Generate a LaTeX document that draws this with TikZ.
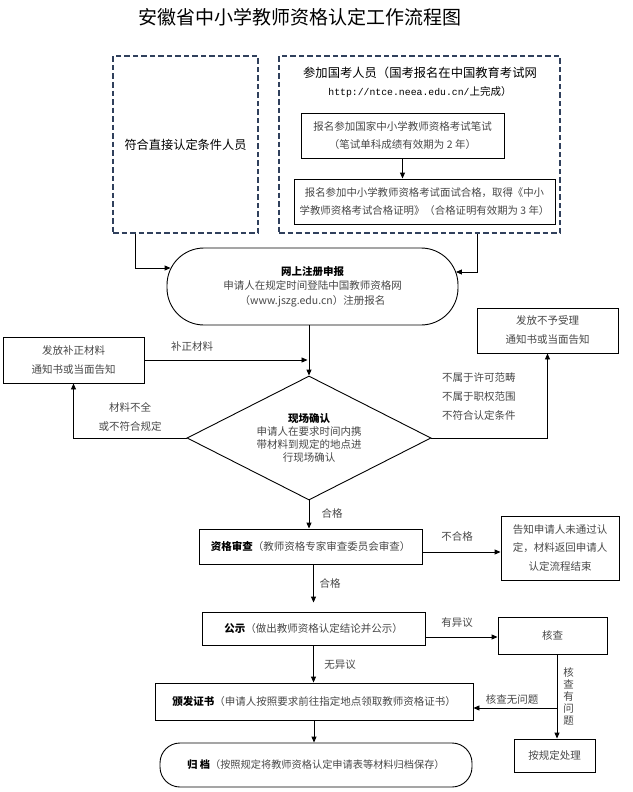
\documentclass[tikz,border=0pt]{standalone}
\usepackage{fontspec}
\setmainfont{Noto Sans CJK SC}
\newfontfamily\urlmono{Liberation Mono}
\usepackage{xcolor}
\usetikzlibrary{arrows.meta,shapes.geometric}
\definecolor{groupline}{RGB}{48,64,92}
\colorlet{bodytext}{black!72}

\begin{document}
\begin{tikzpicture}[
    x=1pt,y=-1pt,
    font=\fontsize{10.5}{18}\selectfont,
    >={Triangle[length=6pt,width=5pt]},
    flow/.style={->,draw=black,line width=0.9pt},
    box/.style={draw=black,line width=0.9pt,align=center,inner sep=0pt},
    group/.style={draw=groupline,line width=2.2pt,dash pattern=on 5.5pt off 3pt},
    note/.style={text=bodytext,inner sep=1pt,align=center}
  ]
    \useasboundingbox (0,0) rectangle (632,792);

    \node (title) at (300,17) {\fontsize{19}{22}\selectfont 安徽省中小学教师资格认定工作流程图};

    % two groups of applicants
    \node[group,minimum width=145pt,minimum height=177pt] (direct) at (185.5,144.5) {};
    \node at (direct.center) {\fontsize{12.2}{14}\selectfont 符合直接认定条件人员};
    \node[group,minimum width=281pt,minimum height=177pt] (exam) at (419.5,144.5) {};
    \node[align=center,inner sep=0pt] (examhead) at (420,82)
      {\fontsize{12.3}{18}\selectfont 参加国考人员（国考报名在中国教育考试网\\
       {\urlmono\fontsize{9.8}{18}\selectfont http://ntce.neea.edu.cn/}上完成）};
    \node[box,text=bodytext,minimum width=203pt,minimum height=45pt] (written) at (402.5,135.5)
      {报名参加国家中小学教师资格考试笔试\\（笔试单科成绩有效期为 2 年）};
    \node[box,text=bodytext,minimum width=261pt,minimum height=45pt,
      font=\fontsize{10.4}{18.5}\selectfont] (interview) at (424.5,201.5)
      {报名参加中小学教师资格考试面试合格，取得《中小\\学教师资格考试合格证明》（合格证明有效期为 3 年）};

    % online registration
    \node[box,rounded corners=37pt,minimum width=291pt,minimum height=77pt,
      font=\fontsize{10.5}{14.5}\selectfont] (reg) at (312.5,286.5)
      {\textbf{网上注册申报}\\{\color{bodytext}申请人在规定时间登陆中国教师资格网}\\
       {\color{bodytext}（www.jszg.edu.cn）注册报名}};

    \node[box,text=bodytext,minimum width=141pt,minimum height=46pt,
      font=\fontsize{10.5}{19}\selectfont] (supply) at (73.5,360)
      {发放补正材料\\通知书或当面告知};
    \node[box,text=bodytext,minimum width=141pt,minimum height=45pt,
      font=\fontsize{10.5}{19}\selectfont] (reject) at (547.5,330.5)
      {发放不予受理\\通知书或当面告知};

    % on-site confirmation
    \node[box,diamond,aspect=2,minimum width=244pt,minimum height=124pt,
      font=\fontsize{10.5}{12.8}\selectfont] (confirm) at (309,438)
      {\textbf{现场确认}\\{\color{bodytext}申请人在要求时间内携}\\
       {\color{bodytext}带材料到规定的地点进}\\{\color{bodytext}行现场确认}};

    \node[box,minimum width=223pt,minimum height=35pt] (review) at (310.5,546.5)
      {\textbf{资格审查}{\color{bodytext}（教师资格专家审查委员会审查）}};
    \node[box,text=bodytext,minimum width=118pt,minimum height=64pt,
      font=\fontsize{10.5}{18.5}\selectfont] (fail) at (560,548)
      {告知申请人未通过认\\定，材料返回申请人\\认定流程结束};

    \node[box,minimum width=223pt,minimum height=33pt] (publicity) at (313.5,628.5)
      {\textbf{公示}{\color{bodytext}（做出教师资格认定结论并公示）}};
    \node[box,text=bodytext,minimum width=109pt,minimum height=37pt] (check) at (552.5,635.5)
      {核查};

    \node[box,minimum width=318pt,minimum height=37pt] (issue) at (314,701.5)
      {\textbf{颁发证书}{\color{bodytext}（申请人按照要求前往指定地点领取教师资格证书）}};
    \node[box,text=bodytext,minimum width=81pt,minimum height=33pt] (handle) at (554.5,755.5)
      {按规定处理};

    \node[box,rounded corners=20pt,minimum width=312pt,minimum height=44pt,
      font=\fontsize{10.2}{14}\selectfont] (archive) at (316,765)
      {\textbf{归\ 档}{\color{bodytext}（按照规定将教师资格认定申请表等材料归档保存）}};

    % connectors
    \draw[flow] (written.south) -- (written.south |- interview.north);
    \draw[flow] ([xshift=24pt]direct.south west) |- ([xshift=4pt,yshift=18.5pt]reg.west);
    \draw[flow] ([xshift=-84pt]exam.south east) |- ([xshift=-2.5pt,yshift=14.5pt]reg.east);
    \draw[flow] (reg.south -| confirm.north) -- (confirm.north);
    \draw[flow,shorten >=1.5pt] (supply.east) -- (supply.east -| confirm.north);
    \node[note] (supplylbl) at (192,347) {补正材料};
    \draw[flow] (confirm.west) -| (supply.south);
    \node[note,font=\fontsize{10.5}{19}\selectfont] (incomplete) at (130,416.5)
      {材料不全\\或不符合规定};
    \draw[flow] (confirm.east) -| (reject.south);
    \node[note,anchor=west,align=left,font=\fontsize{10.5}{19}\selectfont] (outscope) at (441,397)
      {不属于许可范畴\\不属于职权范围\\不符合认定条件};

    \draw[flow] (confirm.south) -- (confirm.south |- review.north);
    \node[note] (pass1) at (332,513) {合格};
    \draw[flow] ([yshift=-5.5pt]review.east) -- ([yshift=-5.5pt]review.east -| fail.west);
    \node[note] (faillbl) at (457,536) {不合格};

    \draw[flow,shorten >=9pt] (review.south -| publicity.north) -- (publicity.north);
    \node[note] (pass2) at (330,583) {合格};
    \draw[flow] ([yshift=-8.5pt]publicity.east) -- ([yshift=-8.5pt]publicity.east -| check.west);
    \node[note] (objection) at (457,623) {有异议};

    \draw[flow] (publicity.south) -- (publicity.south |- issue.north);
    \node[note] (noobjection) at (340,665) {无异议};

    \coordinate (branch) at (557,708);
    \draw[flow] (check.south -| branch) -- (handle.north -| branch);
    \node[note,font=\fontsize{10.5}{12}\selectfont] (problem) at (568.5,696)
      {核\\查\\有\\问\\题};
    \draw[flow] (branch) -- (branch -| issue.east);
    \node[note] (noproblem) at (512,699) {核查无问题};

    \draw[flow] (issue.south) -- (issue.south |- archive.north);
  \end{tikzpicture}
\end{document}
